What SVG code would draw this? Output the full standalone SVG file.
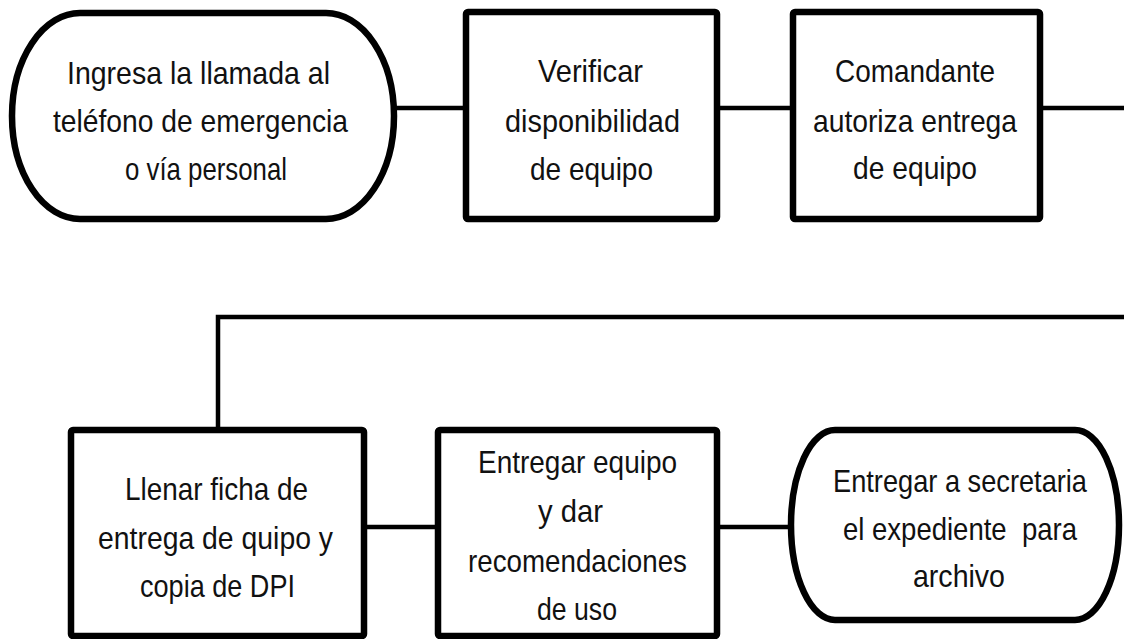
<svg xmlns="http://www.w3.org/2000/svg" width="1124" height="639" viewBox="0 0 1124 639">
<style>
.shape{fill:#fff;stroke:#000;stroke-width:6.5;stroke-linejoin:round}
.conn{fill:none;stroke:#000;stroke-width:4.5}
text{font-family:"Liberation Sans",Arial,sans-serif;font-size:30.5px;fill:#111}
</style>
<rect width="1124" height="639" fill="#fff"/>
<g id="connectors">
<line class="conn" x1="394" y1="108" x2="466" y2="108"/>
<line class="conn" x1="717" y1="108" x2="793" y2="108"/>
<line class="conn" x1="1040" y1="108" x2="1124" y2="108"/>
<polyline class="conn" points="1124,317 218,317 218,430"/>
<line class="conn" x1="364" y1="527" x2="438" y2="527"/>
<line class="conn" x1="717" y1="527" x2="791" y2="527"/>
</g>
<g id="n1">
<path class="shape" d="M80,13 H326 A68,103 0 0 1 326,219 H80 A68,103 0 0 1 80,13 Z"/>
<text x="67" y="84" textLength="263" lengthAdjust="spacingAndGlyphs">Ingresa la llamada al</text>
<text x="53" y="132" textLength="295" lengthAdjust="spacingAndGlyphs">teléfono de emergencia</text>
<text x="125" y="180" textLength="162" lengthAdjust="spacingAndGlyphs">o vía personal</text>
</g>
<g id="n2">
<rect class="shape" x="466" y="12" width="251" height="207" rx="2"/>
<text x="538" y="82" textLength="105" lengthAdjust="spacingAndGlyphs">Verificar</text>
<text x="505" y="132" textLength="175" lengthAdjust="spacingAndGlyphs">disponibilidad</text>
<text x="530" y="180" textLength="123" lengthAdjust="spacingAndGlyphs">de equipo</text>
</g>
<g id="n3">
<rect class="shape" x="793" y="12" width="247" height="207" rx="2"/>
<text x="835" y="82" textLength="160" lengthAdjust="spacingAndGlyphs">Comandante</text>
<text x="813" y="132" textLength="204" lengthAdjust="spacingAndGlyphs">autoriza entrega</text>
<text x="853" y="179" textLength="124" lengthAdjust="spacingAndGlyphs">de equipo</text>
</g>
<g id="n4">
<rect class="shape" x="71" y="430" width="293" height="206" rx="2"/>
<text x="125" y="500" textLength="183" lengthAdjust="spacingAndGlyphs">Llenar ficha de</text>
<text x="98" y="549" textLength="235" lengthAdjust="spacingAndGlyphs">entrega de quipo y</text>
<text x="140" y="597" textLength="155" lengthAdjust="spacingAndGlyphs">copia de DPI</text>
</g>
<g id="n5">
<rect class="shape" x="438" y="430" width="279" height="206" rx="2"/>
<text x="478" y="473" textLength="199" lengthAdjust="spacingAndGlyphs">Entregar equipo</text>
<text x="538" y="522" textLength="65" lengthAdjust="spacingAndGlyphs">y dar</text>
<text x="468" y="572" textLength="219" lengthAdjust="spacingAndGlyphs">recomendaciones</text>
<text x="537" y="620" textLength="80" lengthAdjust="spacingAndGlyphs">de uso</text>
</g>
<g id="n6">
<path class="shape" d="M835,430 H1075 A44,95 0 0 1 1075,620 H835 A44,95 0 0 1 835,430 Z"/>
<text x="833" y="492" textLength="254" lengthAdjust="spacingAndGlyphs">Entregar a secretaria</text>
<text x="843" y="540" textLength="234" lengthAdjust="spacingAndGlyphs" xml:space="preserve">el expediente  para</text>
<text x="913" y="587" textLength="92" lengthAdjust="spacingAndGlyphs">archivo</text>
</g>
</svg>
